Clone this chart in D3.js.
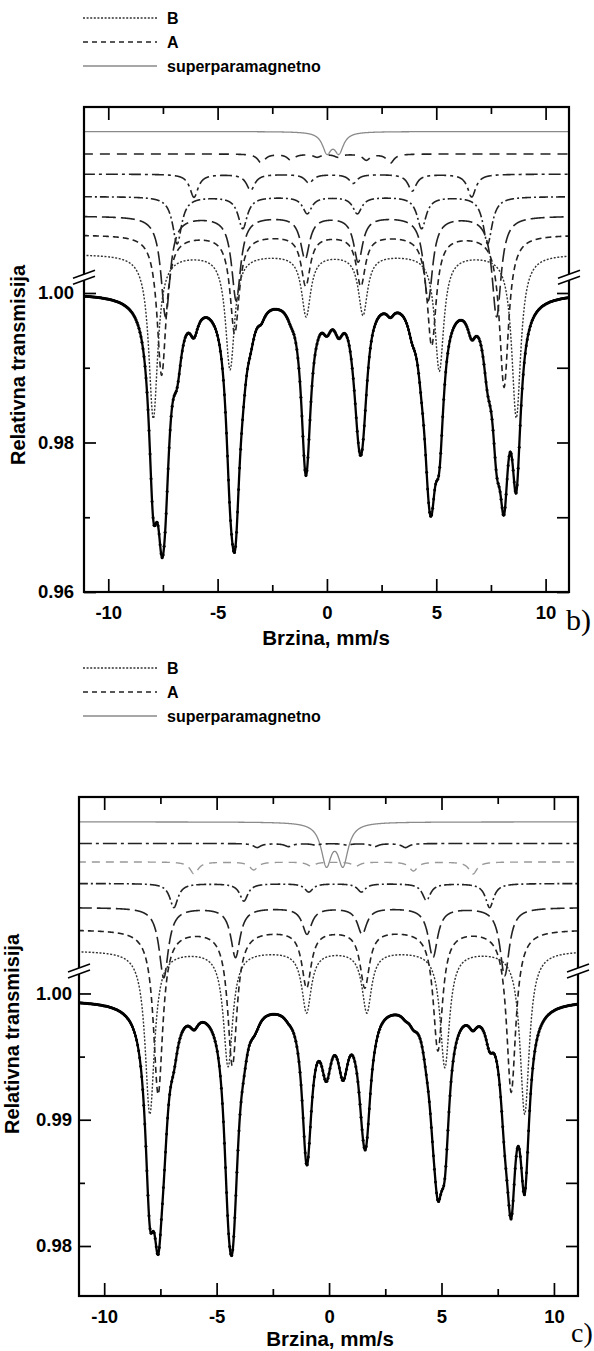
<!DOCTYPE html>
<html><head><meta charset="utf-8">
<script src="https://cdn.jsdelivr.net/npm/d3@7"></script>
<style>body{margin:0;background:#fff}svg{display:block}</style>
</head><body>
<svg id="chart" width="594" height="1351"></svg>
<script>
// ================= DATA =================
const velTicks = [-10, -5, 0, 5, 10];
const velMinor = [-7.5, -2.5, 2.5, 7.5];
const legendLabels = ["B", "A", "superparamagnetno"];
const xTitle = "Brzina, mm/s";
const yTitle = "Relativna transmisija";

// ---- panel b) ----  line positions in mm/s, depths in 1e-3 of transmission
const bYTicks = [0.96, 0.98, 1.00];
const bYMinor = [0.97, 0.99];
const bBaseline = 1.0000;
const bOffset = [1.0216, 1.0186, 1.0159, 1.0129, 1.0103, 1.0078, 1.0052];
const bPos = [
  [0.0, 0.55],
  [-3.0, -1.65, -0.45, 0.5, 1.8, 2.9],
  [-6.08, -3.49, -0.82, 1.2, 3.9, 6.62],
  [-6.85, -3.85, -0.9, 1.39, 4.33, 7.35],
  [-7.38, -4.15, -1.0, 1.43, 4.63, 7.76],
  [-7.56, -4.22, -0.97, 1.55, 4.79, 8.1],
  [-7.94, -4.43, -0.95, 1.65, 5.14, 8.66]
];
const bDepth = [
  [2.62, 2.62],
  [1.2, 0.8, 0.4, 0.4, 0.8, 1.2],
  [3.08, 2.14, 1.16, 1.2, 2.23, 3.04],
  [6.29, 4.24, 2.23, 2.23, 4.24, 6.29],
  [13.4, 11.2, 5.6, 6.0, 11.2, 13.4],
  [18.7, 13.1, 6.7, 6.7, 14.7, 20.3],
  [21.9, 15.3, 8.2, 8.0, 15.5, 21.8]
];
const bHwhm = [0.25, 0.2, 0.23, 0.25, 0.25, 0.25, 0.25];
const bTotalWeight = [1, 1, 1, 1, 1, 1, 1];

// ---- panel c) ----
const cYTicks = [0.98, 0.99, 1.00];
const cYMinor = [0.985, 0.995];
const cBaseline = 0.9995;
const cOffset = [1.01359, 1.01188, 1.01042, 1.00871, 1.00681, 1.00507, 1.00340];
const cPos = [
  [-0.12, 0.62],
  [-3.2, -1.8, -0.6, 0.8, 2.03, 3.4],
  [-6.0, -3.35, -0.8, 1.2, 3.75, 6.4],
  [-6.9, -3.79, -0.9, 1.44, 4.33, 7.14],
  [-7.35, -4.16, -0.98, 1.47, 4.62, 7.81],
  [-7.6, -4.3, -1.0, 1.59, 4.84, 8.1],
  [-7.97, -4.49, -1.0, 1.68, 5.15, 8.7]
];
const cDepth = [
  [3.2, 3.2],
  [0.32, 0.24, 0.12, 0.12, 0.24, 0.32],
  [0.95, 0.63, 0.32, 0.32, 0.71, 0.95],
  [1.9, 1.38, 0.66, 0.66, 1.32, 1.9],
  [5.54, 3.91, 2.06, 2.06, 3.91, 5.38],
  [12.98, 10.68, 4.51, 4.51, 9.5, 12.82],
  [12.9, 9.1, 4.83, 4.83, 9.18, 12.9]
];
const cHwhm = [0.28, 0.2, 0.22, 0.22, 0.25, 0.25, 0.25];
const cTotalWeight = [1.4, 1, 1, 1, 1, 1, 1];

// ================= DRAWING =================
const FONT = "'Liberation Sans', Arial, Helvetica, sans-serif";
const SERIF = "'Liberation Serif', 'Times New Roman', serif";
const svg = d3.select("#chart");
const fmtVel = d => (d < 0 ? "-" + Math.abs(d) : String(d));
const fmtY = d3.format(".2f");

const bStyles = [
  {c: "#8a8a8a", w: 1.3, d: null},
  {c: "#222", w: 1.6, d: "10,7"},
  {c: "#222", w: 1.6, d: "12,4,3,4"},
  {c: "#222", w: 1.6, d: "9,3,2,3"},
  {c: "#222", w: 1.6, d: "14,5"},
  {c: "#222", w: 1.6, d: "6,4"},
  {c: "#333", w: 1.4, d: "2,1.6"}
];
const cStyles = [
  {c: "#8a8a8a", w: 1.3, d: null},
  {c: "#222", w: 1.6, d: "14,4,3,4"},
  {c: "#999", w: 1.4, d: "8,6"},
  {c: "#222", w: 1.6, d: "10,3,2,3"},
  {c: "#222", w: 1.6, d: "14,5"},
  {c: "#222", w: 1.6, d: "6,4"},
  {c: "#333", w: 1.4, d: "2,1.6"}
];

function lorSum(v, pos, dep, hw) {
  let s = 0;
  for (let i = 0; i < pos.length; i++) {
    const t = (v - pos[i]) / hw;
    s += dep[i] / (1 + t * t);
  }
  return s * 1e-3;
}

function drawPanel(p) {
  const x = d3.scaleLinear().domain(p.xDom).range([p.left, p.right]);
  const y = d3.scaleLinear().domain(p.yDom).range([p.bottom, p.top]);
  const g = svg.append("g");

  const clipId = "clip-" + p.name;
  svg.append("clipPath").attr("id", clipId).append("rect")
    .attr("x", p.left).attr("y", p.top)
    .attr("width", p.right - p.left).attr("height", p.bottom - p.top);
  const plot = g.append("g").attr("clip-path", `url(#${clipId})`);

  const grid = d3.range(p.xDom[0] - 0.05, p.xDom[1] + 0.05, 0.01);

  // sub-spectra
  p.pos.forEach((pos, k) => {
    const line = d3.line().x(v => x(v)).y(v => y(p.offset[k] - lorSum(v, pos, p.dep[k], p.hw[k])));
    plot.append("path").datum(grid).attr("d", line)
      .attr("fill", "none").attr("stroke", p.styles[k].c)
      .attr("stroke-width", p.styles[k].w)
      .attr("stroke-dasharray", p.styles[k].d);
  });

  // total fit
  const total = v => p.base - p.pos.reduce((s, pos, k) => s + p.totW[k] * lorSum(v, pos, p.dep[k], p.hw[k]), 0);
  // measured points (channels)
  const chans = d3.range(p.xDom[0] + 0.03, p.xDom[1], 0.046);
  plot.selectAll("circle.pt").data(chans).join("circle")
    .attr("class", "pt").attr("cx", v => x(v)).attr("cy", v => y(total(v)))
    .attr("r", 1.5).attr("fill", "#000");
  plot.append("path").datum(grid)
    .attr("d", d3.line().x(v => x(v)).y(v => y(total(v))))
    .attr("fill", "none").attr("stroke", "#000").attr("stroke-width", 2.3);

  // axes
  const ax = (axis, tx, ty) => {
    const a = g.append("g").attr("transform", `translate(${tx},${ty})`).call(axis);
    a.select(".domain").remove();
    a.selectAll(".tick line").attr("stroke", "#000").attr("stroke-width", 1.7);
    a.selectAll("text").attr("font-family", FONT).attr("font-weight", "bold")
      .attr("font-size", 18.5).attr("fill", "#000");
    return a;
  };
  ax(d3.axisBottom(x).tickValues(velTicks).tickSizeInner(-13).tickSizeOuter(0).tickPadding(14).tickFormat(fmtVel), 0, p.bottom);
  ax(d3.axisBottom(x).tickValues(velMinor).tickSizeInner(-7).tickSizeOuter(0).tickFormat(""), 0, p.bottom);
  ax(d3.axisTop(x).tickValues(velTicks).tickSizeInner(-13).tickSizeOuter(0).tickFormat(""), 0, p.top);
  ax(d3.axisTop(x).tickValues(velMinor).tickSizeInner(-7).tickSizeOuter(0).tickFormat(""), 0, p.top);
  ax(d3.axisLeft(y).tickValues(p.yTicks).tickSizeInner(-12).tickSizeOuter(0).tickPadding(p.yPad).tickFormat(fmtY), p.left, 0);
  ax(d3.axisLeft(y).tickValues(p.yMinor).tickSizeInner(-6).tickSizeOuter(0).tickFormat(""), p.left, 0);
  ax(d3.axisRight(y).tickValues(p.yTicks.concat(p.yMinor)).tickSizeInner(-12).tickSizeOuter(0).tickFormat(""), p.right, 0);

  // frame
  g.append("rect").attr("x", p.left).attr("y", p.top)
    .attr("width", p.right - p.left).attr("height", p.bottom - p.top)
    .attr("fill", "none").attr("stroke", "#000").attr("stroke-width", 2.2);

  // axis breaks
  const yb = y(p.breakVal);
  [p.left, p.right].forEach(fx => {
    g.append("polygon")
      .attr("points", `${fx - 11},${yb + 1} ${fx + 11},${yb - 7} ${fx + 11},${yb - 1} ${fx - 11},${yb + 7}`)
      .attr("fill", "#fff");
    [-3, 3].forEach(o => {
      g.append("line").attr("x1", fx - 11).attr("y1", yb + 4 + o).attr("x2", fx + 11).attr("y2", yb - 4 + o)
        .attr("stroke", "#000").attr("stroke-width", 1.6);
    });
  });

  // titles
  g.append("text").attr("x", p.xTitleX).attr("y", p.xTitleY).attr("text-anchor", "middle")
    .attr("font-family", FONT).attr("font-weight", "bold").attr("font-size", 20.5).text(xTitle);
  g.append("text").attr("transform", `translate(${p.yTitleX},${p.yTitleY}) rotate(-90)`)
    .attr("text-anchor", "middle").attr("font-family", FONT).attr("font-weight", "bold")
    .attr("font-size", 20).text(yTitle);
  g.append("text").attr("x", p.labelX).attr("y", p.labelY)
    .attr("font-family", SERIF).attr("font-size", p.labelSize).text(p.label);

  // legend
  const legStyles = [p.styles[6], p.styles[5], p.styles[0]];
  legendLabels.forEach((lab, i) => {
    const ly = p.legendY[i];
    g.append("line").attr("x1", 83).attr("x2", 157).attr("y1", ly).attr("y2", ly)
      .attr("stroke", legStyles[i].c).attr("stroke-width", legStyles[i].w)
      .attr("stroke-dasharray", i === 1 ? "5,4" : legStyles[i].d);
    g.append("text").attr("x", 167).attr("y", ly).attr("dy", "0.36em")
      .attr("font-family", FONT).attr("font-weight", "bold").attr("font-size", 16).text(lab);
  });
}

drawPanel({
  name: "b", left: 84, right: 569, top: 107, bottom: 592,
  xDom: [-11.11, 11.07], yDom: [0.96, 1.02488],
  yTicks: bYTicks, yMinor: bYMinor, yPad: 10,
  offset: bOffset, pos: bPos, dep: bDepth, hw: bHwhm, base: bBaseline, totW: bTotalWeight,
  styles: bStyles, breakVal: 1.0021,
  xTitleX: 326, xTitleY: 645, yTitleX: 25, yTitleY: 365,
  label: "b)", labelX: 566, labelY: 630, labelSize: 30,
  legendY: [18, 42, 66]
});
drawPanel({
  name: "c", left: 79, right: 578, top: 797, bottom: 1296,
  xDom: [-11.12, 11.07], yDom: [0.97604, 1.01556],
  yTicks: cYTicks, yMinor: cYMinor, yPad: 7,
  offset: cOffset, pos: cPos, dep: cDepth, hw: cHwhm, base: cBaseline, totW: cTotalWeight,
  styles: cStyles, breakVal: 1.00177,
  xTitleX: 330, xTitleY: 1346, yTitleX: 19, yTitleY: 1034,
  label: "c)", labelX: 571, labelY: 1342, labelSize: 28,
  legendY: [668, 692, 716]
});
</script>
</body></html>
